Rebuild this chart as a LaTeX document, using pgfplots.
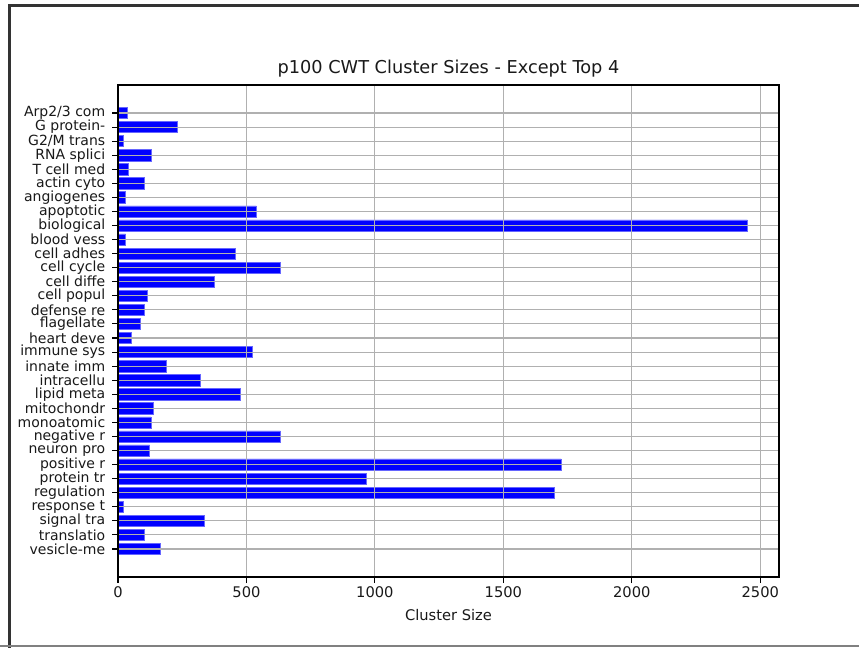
\documentclass[border=0pt]{standalone}
\usepackage{pgfplots}
\pgfplotsset{compat=1.18}
\usepackage{fontspec}
\setmainfont{DejaVu Sans}
\begin{document}
\begin{tikzpicture}[x=0.75pt,y=0.75pt]
\path[use as bounding box] (0,0) rectangle (859,648);
\fill[white] (0,0) rectangle (859,648);
\fill[black!80] (7.5,0) rectangle (11,643.5);
\fill[black!80] (7.5,641) rectangle (859,643.5);
\fill[black!50] (0,1) rectangle (859,2.5);
\begin{axis}[
  at={(88.5pt,53.25pt)}, anchor=south west,
  width=495.75pt, height=369pt, scale only axis,
  xmin=0, xmax=2573,
  ymin=-1.99, ymax=32.99, y dir=reverse,
  xtick={0,500,1000,1500,2000,2500},
  ytick={0,...,31},
  yticklabels={Arp2/3 com,G protein-,G2/M trans,RNA splici,T cell med,actin cyto,angiogenes,apoptotic ,biological,blood vess,cell adhes,cell cycle,cell diffe,cell popul,defense re,flagellate,heart deve,immune sys,innate imm,intracellu,lipid meta,mitochondr,monoatomic,negative r,neuron pro,positive r,protein tr,regulation,response t,signal tra,translatio,vesicle-me},
  /pgf/number format/assume math mode=true,
  /pgf/number format/1000 sep={},
  xticklabel style={font=\fontsize{11}{12}\selectfont, text=black!90, yshift=0.5pt},
  yticklabel style={font=\fontsize{10.5}{11}\selectfont, text=black!90, inner sep=0pt, xshift=-4.9pt},
  tick align=outside, major tick length=4.5pt,
  tick style={black, line width=0.8pt},
  xtick pos=bottom, ytick pos=left,
  axis line style={line width=0.8pt},
  grid=major,
  major grid style={color=black!31, line width=0.8pt},
  axis on top,
  title={p100 CWT Cluster Sizes - Except Top 4},
  title style={font=\fontsize{13.3}{15}\selectfont, text=black!90, at={(0.5,1)}, anchor=center, yshift=6pt},
  xlabel={Cluster Size},
  xlabel style={font=\fontsize{11}{12}\selectfont, text=black!90, at={(0.5,0)}, anchor=center, yshift=-28.5pt},
]
\addplot[xbar, bar width=0.8, bar shift=0pt, fill=blue, draw=blue!60, line width=0.4pt] coordinates {
(35,0) (232,1) (19,2) (128,3) (40,4) (102,5) (30,6) (539,7)
(2450,8) (30,9) (456,10) (632,11) (373,12) (113,13) (102,14) (87,15)
(51,16) (523,17) (186,18) (321,19) (476,20) (139,21) (128,22) (632,23)
(123,24) (1725,25) (965,26) (1698,27) (19,28) (336,29) (102,30) (165,31)
};
\end{axis}
\end{tikzpicture}
\end{document}
